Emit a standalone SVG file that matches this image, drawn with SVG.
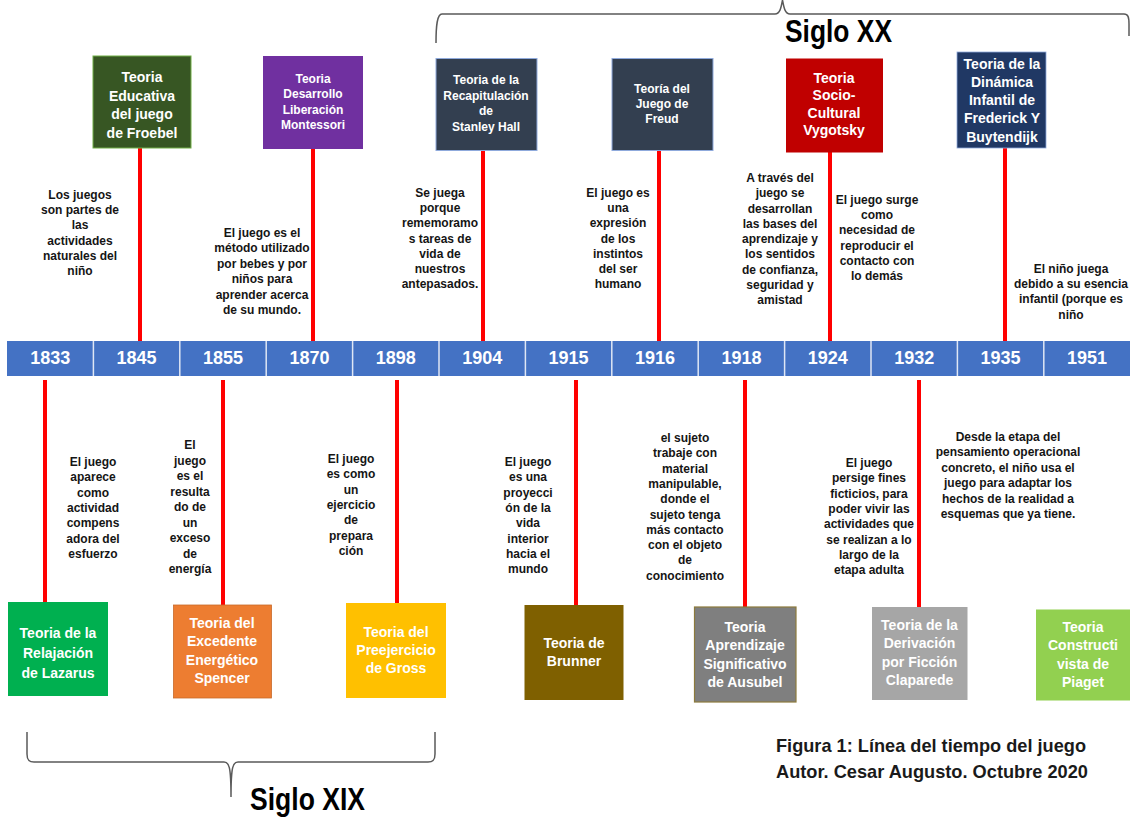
<svg xmlns="http://www.w3.org/2000/svg" width="1130" height="818" viewBox="0 0 1130 818">
<style>
text{font-family:"Liberation Sans",Arial,sans-serif;font-weight:bold;text-anchor:middle}
.bt{fill:#fff;font-size:14px}
.bs{fill:#fff;font-size:12px}
.d{fill:#151515;font-size:12px}
.yr{fill:#fff;font-size:18px}
.big{fill:#000;font-family:"Liberation Sans Narrow","Liberation Sans",sans-serif;text-anchor:start}
.cap{fill:#1a1a1a;font-family:"Liberation Sans Narrow","Liberation Sans",sans-serif;font-size:19px;text-anchor:start}
.conn line{stroke:#ff0000;stroke-width:4}
.brace{fill:none;stroke:#5a5a5a;stroke-width:1.5}
</style>
<rect width="1130" height="818" fill="#fff"/>

<!-- braces -->
<g id="brace-xx">
<path class="brace" d="M436,43 C436,26 437,14 442,14 L775,14 C780,14 781,8 782.5,0 C784,8 785,14 790,14 L1124,14 C1128,14 1129,17 1129,24 L1129,36"/>
<text class="big" x="785" y="42" font-size="32" textLength="107" lengthAdjust="spacingAndGlyphs">Siglo XX</text>
</g>
<g id="brace-xix">
<path class="brace" d="M27,732 L27,754 C27,760 29,762 34,762 L224,762 C229,762 231,766 231,797 C231,766 233,762 238,762 L428,762 C433,762 435,760 435,754 L435,732"/>
<text class="big" x="250" y="810" font-size="31" textLength="115" lengthAdjust="spacingAndGlyphs">Siglo XIX</text>
</g>

<!-- timeline bar -->
<g id="timeline">
<rect x="7" y="341" width="1123" height="35" fill="#4472C4"/>
<g stroke="#dfe6f5" stroke-width="1.5">
<line x1="93.4" y1="341" x2="93.4" y2="376"/><line x1="179.8" y1="341" x2="179.8" y2="376"/>
<line x1="266.2" y1="341" x2="266.2" y2="376"/><line x1="352.6" y1="341" x2="352.6" y2="376"/>
<line x1="439" y1="341" x2="439" y2="376"/><line x1="525.4" y1="341" x2="525.4" y2="376"/>
<line x1="611.8" y1="341" x2="611.8" y2="376"/><line x1="698.2" y1="341" x2="698.2" y2="376"/>
<line x1="784.6" y1="341" x2="784.6" y2="376"/><line x1="871" y1="341" x2="871" y2="376"/>
<line x1="957.4" y1="341" x2="957.4" y2="376"/><line x1="1043.8" y1="341" x2="1043.8" y2="376"/>
</g>
<text class="yr" x="50.2" y="364">1833</text><text class="yr" x="136.6" y="364">1845</text>
<text class="yr" x="223" y="364">1855</text><text class="yr" x="309.4" y="364">1870</text>
<text class="yr" x="395.8" y="364">1898</text><text class="yr" x="482.2" y="364">1904</text>
<text class="yr" x="568.6" y="364">1915</text><text class="yr" x="655" y="364">1916</text>
<text class="yr" x="741.4" y="364">1918</text><text class="yr" x="827.8" y="364">1924</text>
<text class="yr" x="914.2" y="364">1932</text><text class="yr" x="1000.6" y="364">1935</text>
<text class="yr" x="1087" y="364">1951</text>
</g>

<!-- connectors -->
<g id="connectors" class="conn">
<line x1="140" y1="148" x2="140" y2="341"/>
<line x1="313" y1="149" x2="313" y2="341"/>
<line x1="483" y1="151" x2="483" y2="341"/>
<line x1="659" y1="151" x2="659" y2="341"/>
<line x1="830" y1="152" x2="830" y2="341"/>
<line x1="1005" y1="148" x2="1005" y2="341"/>
<line x1="45" y1="380" x2="45" y2="602"/>
<line x1="223" y1="380" x2="223" y2="605"/>
<line x1="397" y1="380" x2="397" y2="603"/>
<line x1="576" y1="380" x2="576" y2="605"/>
<line x1="745" y1="380" x2="745" y2="607"/>
<line x1="919" y1="380" x2="919" y2="607"/>
</g>

<!-- top nodes -->
<g id="froebel">
<rect x="93" y="56" width="98" height="92" fill="#375623" stroke="#70AD47" stroke-width="1"/>
<text class="bt" x="142" y="82" font-size="14.5">Teoria<tspan x="142" dy="18.7">Educativa</tspan><tspan x="142" dy="18.7">del juego</tspan><tspan x="142" dy="18.7">de Froebel</tspan></text>
<text class="d" x="80" y="199">Los juegos<tspan x="80" dy="15.2">son partes de</tspan><tspan x="80" dy="15.2">las</tspan><tspan x="80" dy="15.2">actividades</tspan><tspan x="80" dy="15.2">naturales del</tspan><tspan x="80" dy="15.2">niño</tspan></text>
</g>
<g id="montessori">
<rect x="263" y="56" width="100" height="93" fill="#7030A0"/>
<text class="bs" x="313" y="83" font-size="11.5">Teoria<tspan x="313" dy="15.3">Desarrollo</tspan><tspan x="313" dy="15.3">Liberación</tspan><tspan x="313" dy="15.3">Montessori</tspan></text>
<text class="d" x="262" y="237">El juego es el<tspan x="262" dy="15.4">método utilizado</tspan><tspan x="262" dy="15.4">por bebes y por</tspan><tspan x="262" dy="15.4">niños para</tspan><tspan x="262" dy="15.4">aprender acerca</tspan><tspan x="262" dy="15.4">de su mundo.</tspan></text>
</g>
<g id="hall">
<rect x="436" y="58.5" width="101" height="92" fill="#333F50" stroke="#8FAADC" stroke-width="1"/>
<text class="bs" x="486" y="84" font-size="11.5">Teoria de la<tspan x="486" dy="15.7">Recapitulación</tspan><tspan x="486" dy="15.7">de</tspan><tspan x="486" dy="15.7">Stanley Hall</tspan></text>
<text class="d" x="440" y="197" font-size="11.5">Se juega<tspan x="440" dy="15.2">porque</tspan><tspan x="440" dy="15.2">rememoramo</tspan><tspan x="440" dy="15.2">s tareas de</tspan><tspan x="440" dy="15.2">vida de</tspan><tspan x="440" dy="15.2">nuestros</tspan><tspan x="440" dy="15.2">antepasados.</tspan></text>
</g>
<g id="freud">
<rect x="612" y="58.5" width="101" height="92" fill="#333F50" stroke="#8FAADC" stroke-width="1"/>
<text class="bs" x="662" y="93">Teoría del<tspan x="662" dy="15">Juego de</tspan><tspan x="662" dy="15">Freud</tspan></text>
<text class="d" x="618" y="197" font-size="11.5">El juego es<tspan x="618" dy="15.2">una</tspan><tspan x="618" dy="15.2">expresión</tspan><tspan x="618" dy="15.2">de los</tspan><tspan x="618" dy="15.2">instintos</tspan><tspan x="618" dy="15.2">del ser</tspan><tspan x="618" dy="15.2">humano</tspan></text>
</g>
<g id="vygotsky">
<rect x="786" y="58.5" width="97" height="94" fill="#C00000"/>
<text class="bt" x="834" y="83">Teoria<tspan x="834" dy="17.4">Socio-</tspan><tspan x="834" dy="17.4">Cultural</tspan><tspan x="834" dy="17.4">Vygotsky</tspan></text>
<text class="d" x="780" y="182">A través del<tspan x="780" dy="15.25">juego se</tspan><tspan x="780" dy="15.25">desarrollan</tspan><tspan x="780" dy="15.25">las bases del</tspan><tspan x="780" dy="15.25">aprendizaje y</tspan><tspan x="780" dy="15.25">los sentidos</tspan><tspan x="780" dy="15.25">de confianza,</tspan><tspan x="780" dy="15.25">seguridad y</tspan><tspan x="780" dy="15.25">amistad</tspan></text>
</g>
<g id="buytendijk">
<rect x="957" y="52" width="89" height="96" fill="#203864" stroke="#8FAADC" stroke-width="0.8"/>
<text class="bt" x="1002" y="68.5" font-size="13.5">Teoria de la<tspan x="1002" dy="18.3">Dinámica</tspan><tspan x="1002" dy="18.3">Infantil de</tspan><tspan x="1002" dy="18.3">Frederick Y</tspan><tspan x="1002" dy="18.3">Buytendijk</tspan></text>
<text class="d" x="877" y="204">El juego surge<tspan x="877" dy="15.2">como</tspan><tspan x="877" dy="15.2">necesidad de</tspan><tspan x="877" dy="15.2">reproducir el</tspan><tspan x="877" dy="15.2">contacto con</tspan><tspan x="877" dy="15.2">lo demás</tspan></text>
</g>
<g id="y1951">
<text class="d" x="1071" y="273" font-size="11.2">El niño juega<tspan x="1071" dy="15.2">debido a su esencia</tspan><tspan x="1071" dy="15.2">infantil (porque es</tspan><tspan x="1071" dy="15.2">niño</tspan></text>
</g>

<!-- bottom nodes -->
<g id="lazarus">
<rect x="8" y="602" width="100" height="94" fill="#00B050"/>
<text class="bt" x="58" y="638">Teoria de la<tspan x="58" dy="19.8">Relajación</tspan><tspan x="58" dy="19.8">de Lazarus</tspan></text>
<text class="d" x="93" y="466">El juego<tspan x="93" dy="15.3">aparece</tspan><tspan x="93" dy="15.3">como</tspan><tspan x="93" dy="15.3">actividad</tspan><tspan x="93" dy="15.3">compens</tspan><tspan x="93" dy="15.3">adora del</tspan><tspan x="93" dy="15.3">esfuerzo</tspan></text>
</g>
<g id="spencer">
<rect x="173.5" y="605" width="98" height="93" fill="#ED7D31" stroke="#c86a2a" stroke-width="0.8"/>
<text class="bt" x="222" y="628">Teoria del<tspan x="222" dy="18.3">Excedente</tspan><tspan x="222" dy="18.3">Energético</tspan><tspan x="222" dy="18.3">Spencer</tspan></text>
<text class="d" x="190" y="449">El<tspan x="190" dy="15.5">juego</tspan><tspan x="190" dy="15.5">es el</tspan><tspan x="190" dy="15.5">resulta</tspan><tspan x="190" dy="15.5">do de</tspan><tspan x="190" dy="15.5">un</tspan><tspan x="190" dy="15.5">exceso</tspan><tspan x="190" dy="15.5">de</tspan><tspan x="190" dy="15.5">energía</tspan></text>
</g>
<g id="gross">
<rect x="346" y="603" width="100" height="95" fill="#FFC000"/>
<text class="bt" x="396" y="637">Teoria del<tspan x="396" dy="18">Preejercicio</tspan><tspan x="396" dy="18">de Gross</tspan></text>
<text class="d" x="351" y="463">El juego<tspan x="351" dy="15.3">es como</tspan><tspan x="351" dy="15.3">un</tspan><tspan x="351" dy="15.3">ejercicio</tspan><tspan x="351" dy="15.3">de</tspan><tspan x="351" dy="15.3">prepara</tspan><tspan x="351" dy="15.3">ción</tspan></text>
</g>
<g id="brunner">
<rect x="524.5" y="605" width="99" height="95" fill="#7F6000"/>
<text class="bt" x="574" y="648">Teoria de<tspan x="574" dy="18.3">Brunner</tspan></text>
<text class="d" x="528" y="466">El juego<tspan x="528" dy="15.3">es una</tspan><tspan x="528" dy="15.3">proyecci</tspan><tspan x="528" dy="15.3">ón de la</tspan><tspan x="528" dy="15.3">vida</tspan><tspan x="528" dy="15.3">interior</tspan><tspan x="528" dy="15.3">hacia el</tspan><tspan x="528" dy="15.3">mundo</tspan></text>
</g>
<g id="ausubel">
<rect x="694.5" y="607" width="101.5" height="95" fill="#7F7F7F" stroke="#8C7A3C" stroke-width="1.2"/>
<text class="bt" x="745" y="632">Teoria<tspan x="745" dy="18.3">Aprendizaje</tspan><tspan x="745" dy="18.3">Significativo</tspan><tspan x="745" dy="18.3">de Ausubel</tspan></text>
<text class="d" x="685" y="442">el sujeto<tspan x="685" dy="15.3">trabaje con</tspan><tspan x="685" dy="15.3">material</tspan><tspan x="685" dy="15.3">manipulable,</tspan><tspan x="685" dy="15.3">donde el</tspan><tspan x="685" dy="15.3">sujeto tenga</tspan><tspan x="685" dy="15.3">más contacto</tspan><tspan x="685" dy="15.3">con el objeto</tspan><tspan x="685" dy="15.3">de</tspan><tspan x="685" dy="15.3">conocimiento</tspan></text>
</g>
<g id="claparede">
<rect x="872" y="607" width="95.5" height="93" fill="#A6A6A6"/>
<text class="bt" x="919.5" y="630">Teoria de la<tspan x="919.5" dy="18.3">Derivación</tspan><tspan x="919.5" dy="18.3">por Ficción</tspan><tspan x="919.5" dy="18.3">Claparede</tspan></text>
<text class="d" x="869" y="467">El juego<tspan x="869" dy="15.3">persige fines</tspan><tspan x="869" dy="15.3">ficticios, para</tspan><tspan x="869" dy="15.3">poder vivir las</tspan><tspan x="869" dy="15.3">actividades que</tspan><tspan x="869" dy="15.3">se realizan a lo</tspan><tspan x="869" dy="15.3">largo de la</tspan><tspan x="869" dy="15.3">etapa adulta</tspan></text>
</g>
<g id="piaget">
<rect x="1036" y="609.5" width="94" height="91" fill="#92D050"/>
<text class="bt" x="1083" y="632">Teoria<tspan x="1083" dy="18.3">Constructi</tspan><tspan x="1083" dy="18.3">vista  de</tspan><tspan x="1083" dy="18.3">Piaget</tspan></text>
<text class="d" x="1008" y="441">Desde la etapa del<tspan x="1008" dy="15.4">pensamiento operacional</tspan><tspan x="1008" dy="15.4">concreto, el niño usa el</tspan><tspan x="1008" dy="15.4">juego para adaptar los</tspan><tspan x="1008" dy="15.4">hechos de la realidad a</tspan><tspan x="1008" dy="15.4">esquemas que ya tiene.</tspan></text>
</g>

<g id="caption">
<text class="cap" x="776" y="752" textLength="310" lengthAdjust="spacingAndGlyphs">Figura 1: Línea del tiempo del juego</text>
<text class="cap" x="776" y="778" textLength="312" lengthAdjust="spacingAndGlyphs">Autor. Cesar Augusto. Octubre 2020</text>
</g>
</svg>
